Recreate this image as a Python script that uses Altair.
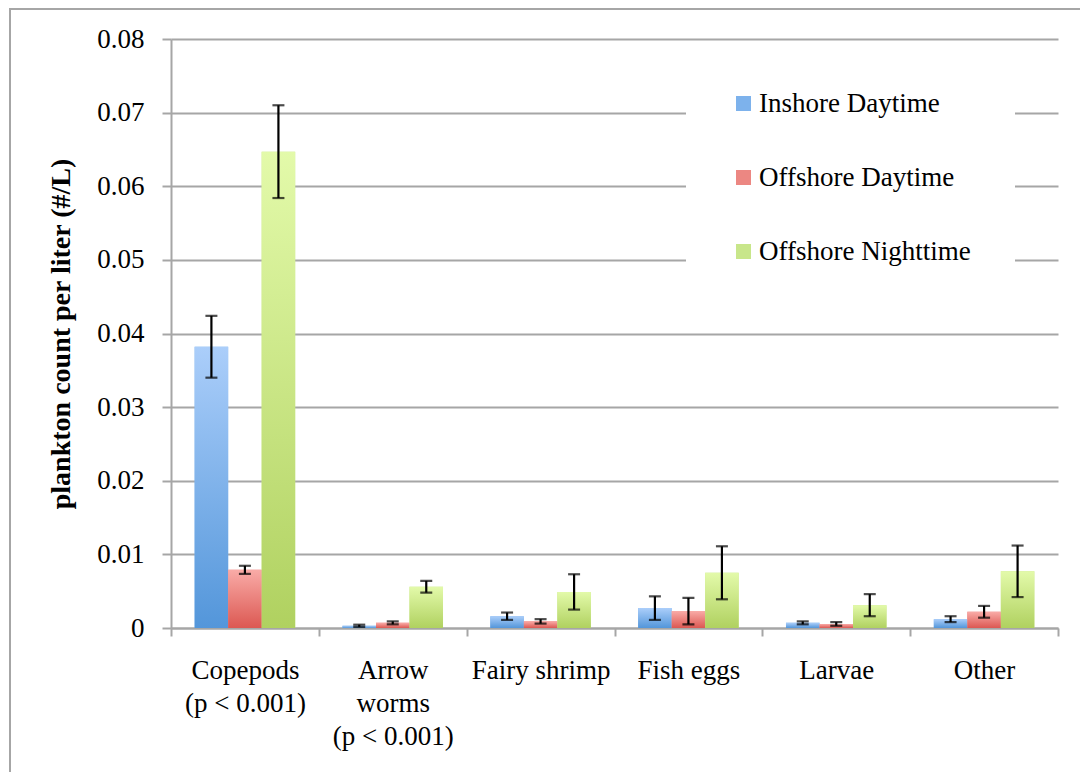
import altair as alt
import pandas as pd

# Plankton groups (a "|" marks a line break in the axis label)
categories = [
    "Copepods|(p < 0.001)",
    "Arrow|worms|(p < 0.001)",
    "Fairy shrimp",
    "Fish eggs",
    "Larvae",
    "Other",
]
series = ["Inshore Daytime", "Offshore Daytime", "Offshore Nighttime"]

# Mean plankton count per liter and the error (+/-) for each group
inshore_day = [0.0382, 0.0003, 0.0016, 0.0027, 0.0007, 0.0012]
inshore_day_err = [0.0042, 0.00015, 0.0005, 0.0016, 0.0002, 0.0004]
offshore_day = [0.0079, 0.0007, 0.0009, 0.0023, 0.00055, 0.0022]
offshore_day_err = [0.00055, 0.0002, 0.0003, 0.0018, 0.00025, 0.0008]
offshore_night = [0.0647, 0.0056, 0.0049, 0.0075, 0.0031, 0.0077]
offshore_night_err = [0.0063, 0.0008, 0.0024, 0.0036, 0.0015, 0.0035]

# Light (top) and dark (bottom) shades for each series
top_colors = ["#abcefa", "#f9aba7", "#e3faaa"]
bottom_colors = ["#5396da", "#dc5852", "#b0d160"]
solid_colors = ["#7db2ec", "#ec8782", "#c8e68a"]

rows = []
for name, vals, errs in zip(
    series,
    [inshore_day, offshore_day, offshore_night],
    [inshore_day_err, offshore_day_err, offshore_night_err],
):
    for cat, v, e in zip(categories, vals, errs):
        rows.append({"category": cat, "series": name, "value": v, "err": e})
df = pd.DataFrame(rows)

FONT = "Liberation Serif"
GRID = "#a6a6a6"

x_enc = alt.X(
    "category:N",
    sort=categories,
    title=None,
    scale=alt.Scale(paddingInner=0, paddingOuter=0),
    axis=alt.Axis(
        labelExpr="split(datum.label, '|')",
        labelAngle=0,
        labelFont=FONT,
        labelFontSize=27,
        labelColor="black",
        labelLineHeight=33,
        labelPadding=21,
        tickBand="extent",
        tickSize=8,
        tickColor=GRID,
        tickWidth=2,
        domainColor=GRID,
        domainWidth=2,
        grid=False,
    ),
)
xoff_enc = alt.XOffset(
    "series:N",
    sort=series,
    scale=alt.Scale(domain=series, paddingInner=0, paddingOuter=0.706),
)
y_enc = alt.Y(
    "value:Q",
    title="plankton count per liter (#/L)",
    scale=alt.Scale(domain=[0, 0.08], nice=False),
    axis=alt.Axis(
        values=[0, 0.01, 0.02, 0.03, 0.04, 0.05, 0.06, 0.07, 0.08],
        labelExpr="datum.value == 0 ? '0' : format(datum.value, '.2f')",
        labelFont=FONT,
        labelFontSize=27,
        labelColor="black",
        labelPadding=18,
        tickSize=9,
        tickColor=GRID,
        tickWidth=2,
        domainColor=GRID,
        domainWidth=2,
        gridColor=GRID,
        gridWidth=2,
        titleFont=FONT,
        titleFontSize=28,
        titleFontWeight="bold",
        titleColor="black",
        titlePadding=21,
    ),
)

base = alt.Chart(df).encode(x=x_enc, xOffset=xoff_enc)

# Solid bars carry the legend; gradient bars are drawn over them
legend_bars = base.mark_bar().encode(
    y=y_enc,
    color=alt.Color(
        "series:N",
        sort=series,
        scale=alt.Scale(domain=series, range=solid_colors),
        legend=alt.Legend(
            title=None,
            orient="none",
            legendX=515,
            legendY=7,
            direction="vertical",
            symbolType="square",
            symbolSize=225,
            symbolStrokeWidth=0,
            symbolOpacity=1,
            labelFont=FONT,
            labelFontSize=27,
            labelColor="black",
            labelLimit=0,
            labelOffset=2,
            rowPadding=46,
            fillColor="white",
            padding=44,
        ),
    ),
)

gradient_layers = []
for name, top, bottom in zip(series, top_colors, bottom_colors):
    grad = alt.Gradient(
        gradient="linear",
        stops=[
            alt.GradientStop(color=top, offset=0),
            alt.GradientStop(color=bottom, offset=1),
        ],
        x1=0,
        x2=0,
        y1=0,
        y2=1,
    )
    gradient_layers.append(
        base.transform_filter(alt.datum.series == name)
        .mark_bar(color=grad)
        .encode(y="value:Q")
    )

err_base = base.transform_calculate(
    lo="datum.value - datum.err", hi="datum.value + datum.err"
)
err_rule = err_base.mark_rule(color="black", strokeWidth=2.2).encode(
    y="lo:Q", y2="hi:Q"
)
err_cap_lo = err_base.mark_tick(
    color="black", size=12, thickness=2.2, orient="horizontal"
).encode(y="lo:Q")
err_cap_hi = err_base.mark_tick(
    color="black", size=12, thickness=2.2, orient="horizontal"
).encode(y="hi:Q")

# Outer frame around the whole figure
frame = (
    alt.Chart(pd.DataFrame({"frame": [0]}))
    .mark_rect(fill=None, stroke=GRID, strokeWidth=2)
    .encode(
        x=alt.value(-161),
        x2=alt.value(925),
        y=alt.value(-30),
        y2=alt.value(745),
    )
)

chart = (
    alt.layer(frame, legend_bars, *gradient_layers, err_rule, err_cap_lo, err_cap_hi)
    .properties(
        width=887,
        height=589,
        autosize=alt.AutoSizeParams(type="none"),
        padding={"left": 171, "top": 39, "right": 22, "bottom": 144},
        background="white",
    )
    .configure_view(stroke=None)
)

chart.save("out.html", embed_options={"renderer": "svg", "actions": False})
